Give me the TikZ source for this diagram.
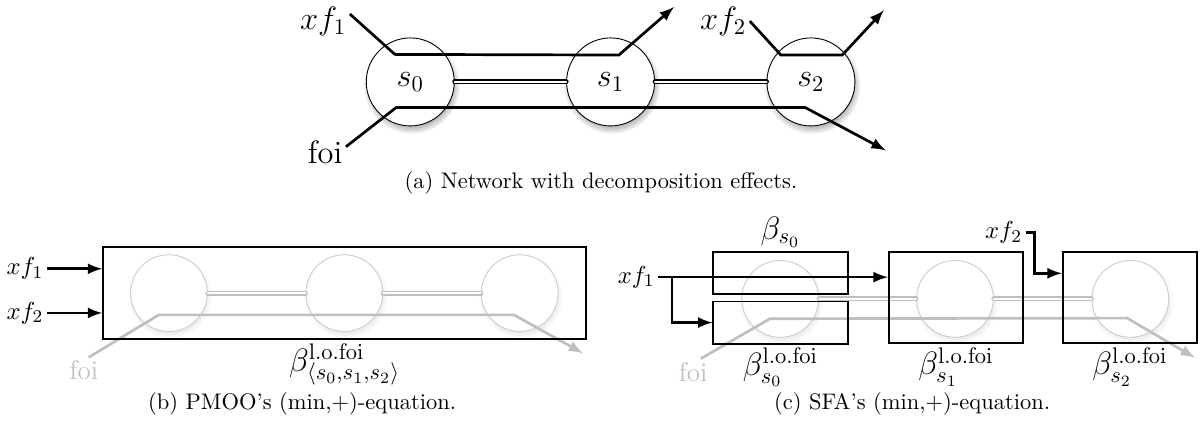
\documentclass[tikz,border=0pt]{standalone}
\usetikzlibrary{positioning,shadows}

\begin{document}
\begin{tikzpicture}[very thick,
  server/.style={circle,draw,thin,fill=white,minimum size=1.375cm,inner sep=0pt,font=\Large,
    circular drop shadow={shadow xshift=.5pt,shadow yshift=-1.5pt,opacity=.5}},
  ghost/.style={circle,draw=black!20,thin,fill=white,minimum size=1.2cm,inner sep=0pt,
    circular drop shadow={shadow xshift=.4pt,shadow yshift=-1.2pt,opacity=.15}},
  link/.style={line width=.6pt,double=white,double distance=1pt,line cap=round},
  ghostlink/.style={link,draw=black!25},
  ghostflow/.style={black!25,-latex},
  box/.style={draw,thick,inner sep=0pt},
  lbl/.style={inner sep=1pt,font=\fontsize{11}{13}\selectfont},
  blbl/.style={inner sep=1pt,font=\Large}]
\useasboundingbox (0,0) rectangle (18.78,6.61);

% (a) network
\node[server] (s0) at (6.41,5.33) {$s_0$};
\node[server] (s1) at (9.54,5.33) {$s_1$};
\node[server] (s2) at (12.67,5.33) {$s_2$};
\draw[link] (s0) -- (s1);
\draw[link] (s1) -- (s2);
\node[lbl,font=\Large] (xfa1) at (5.05,6.28) {$xf_1$};
\node[lbl,font=\Large] (xfa2) at (11.30,6.28) {$xf_2$};
\node[lbl,font=\Large] (foia) at (5.08,4.23) {foi};
\coordinate (outa1) at (10.53,6.50);
\coordinate (outa2) at (13.81,6.45);
\coordinate (outa3) at (13.84,4.26);
\draw[-latex] (xfa1.15) -- (6.17,5.76) -- (9.67,5.75) -- (outa1);
\draw[-latex] (xfa2.east) -- (12.20,5.75) -- (13.16,5.75) -- (outa2);
\draw[-latex] (foia.15) -- (6.19,4.93) -- (12.58,4.93) -- (outa3);
\node (capa) at (9.39,3.76) {(a) Network with decomposition effects.};

% (b) PMOO
\foreach \i/\x in {0/2.64,1/5.38,2/8.12}
  \node[ghost] (b\i) at (\x,2.03) {};
\draw[ghostlink] (b0) -- (b1);
\draw[ghostlink] (b1) -- (b2);
\node[lbl,font=\large,text=black!25] (foib) at (1.31,0.82) {foi};
\coordinate (outb) at (9.11,1.09);
\draw[ghostflow] (foib.70) -- (2.48,1.69) -- (8.03,1.69) -- (outb);
\node[box,minimum width=7.55cm,minimum height=1.44cm] (pmoo) at (5.385,2.03) {};
\node[lbl] (xfb1) at (0.39,2.41) {$xf_1$};
\node[lbl] (xfb2) at (0.39,1.72) {$xf_2$};
\draw[-latex] (xfb1) -- (xfb1 -| pmoo.west);
\draw[-latex] (xfb2) -- (xfb2 -| pmoo.west);
\node[blbl,below=0pt of pmoo] (bpmoo) {$\beta^{\mathrm{l.o.foi}}_{\langle s_0,s_1,s_2\rangle}$};
\node (capb) at (4.72,0.30) {(b) PMOO's (min,+)-equation.};

% (c) SFA
\foreach \i/\x in {0/12.19,1/14.92,2/17.66}
  \node[ghost] (c\i) at (\x,1.94) {};
\draw[ghostlink] (c0) -- (c1);
\draw[ghostlink] (c1) -- (c2);
\node[lbl,font=\large,text=black!25] (foic) at (10.83,0.80) {foi};
\coordinate (outc) at (18.67,1.02);
\draw[ghostflow] (foic.60) -- (12.03,1.63) -- (17.61,1.64) -- (outc);
\node[box,minimum width=2.1cm,minimum height=.66cm] (sfa0) at (12.195,2.345) {};
\node[box,minimum width=2.1cm,minimum height=.66cm] (sfa0f) at (12.195,1.57) {};
\node[box,minimum width=2.1cm,minimum height=1.42cm] (sfa1) at (14.935,1.96) {};
\node[box,minimum width=2.1cm,minimum height=1.42cm] (sfa2) at (17.655,1.96) {};
\node[blbl,above=0pt of sfa0] (bsfa0) {$\beta_{s_0}$};
\node[blbl,below=0pt of sfa0f] (bsfa0f) {$\beta^{\mathrm{l.o.foi}}_{s_0}$};
\node[blbl,below=0pt of sfa1] (bsfa1) {$\beta^{\mathrm{l.o.foi}}_{s_1}$};
\node[blbl,below=0pt of sfa2] (bsfa2) {$\beta^{\mathrm{l.o.foi}}_{s_2}$};
\node[lbl] (xfc1) at (9.94,2.28) {$xf_1$};
\coordinate (fork) at (10.50,2.28);
\draw[-latex] (xfc1) -- (xfc1 -| sfa1.west);
\draw[-latex] (fork) |- (sfa0f.west);
\node[lbl] (xfc2) at (15.68,2.98) {$xf_2$};
\coordinate (drop) at (16.16,2.34);
\draw[-latex] (xfc2.east) -| (drop) -- (drop -| sfa2.west);
\node (capc) at (14.25,0.30) {(c) SFA's (min,+)-equation.};
\end{tikzpicture}
\end{document}
